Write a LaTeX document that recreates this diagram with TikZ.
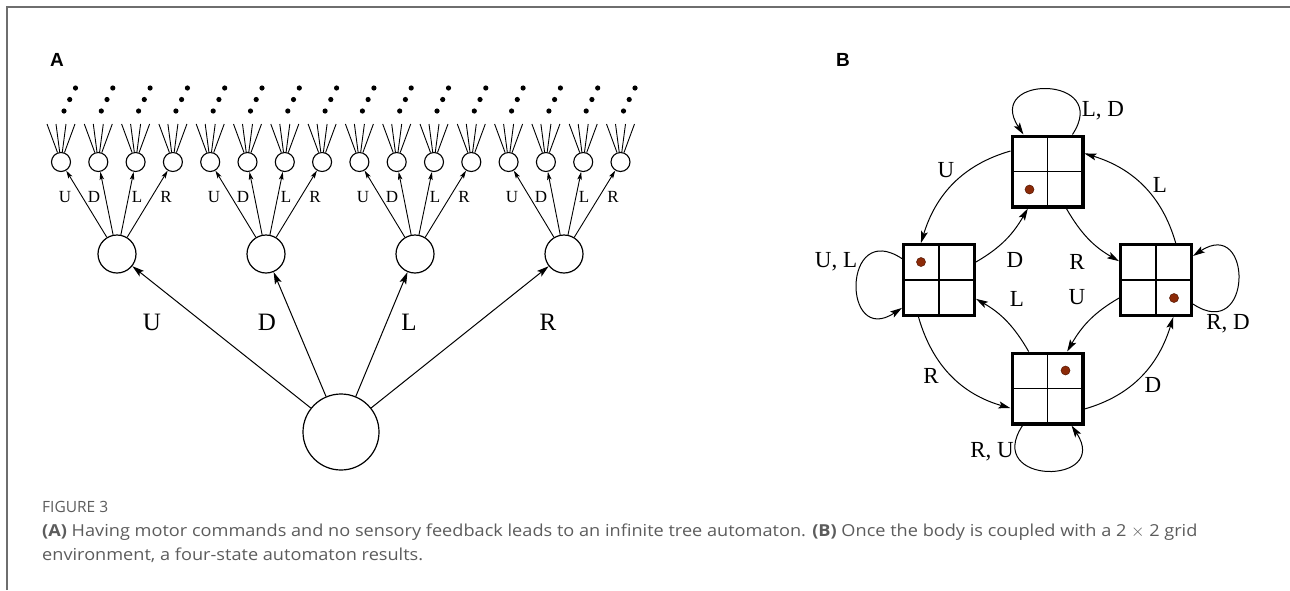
\documentclass[tikz,border=0pt]{standalone}
\usepackage{fontspec}
\setmainfont{Liberation Serif}
\newfontfamily\panelfont{Liberation Sans}
\newfontfamily\capfont[FakeStretch=1.1]{Open Sans}
\newfontfamily\figfont{Open Sans}
\usetikzlibrary{arrows.meta}
\definecolor{pebble}{RGB}{140,42,8}
\definecolor{capgray}{RGB}{92,92,92}
\definecolor{framegray}{RGB}{110,110,110}
\begin{document}
\begin{tikzpicture}[x=1pt,y=1pt,
  frame/.style={draw=framegray, line width=1.5pt},
  panel/.style={font=\panelfont\bfseries\fontsize{19}{22}\selectfont, inner sep=0pt},
  rootnode/.style={circle, draw, line width=1.2pt, minimum size=76pt, inner sep=0pt},
  midnode/.style={circle, draw, line width=1.2pt, minimum size=38pt, inner sep=0pt},
  leafnode/.style={circle, draw, line width=1.1pt, minimum size=19pt, inner sep=0pt},
  bigarrow/.style={line width=1pt, -{Stealth[length=12pt,width=7pt,inset=2.5pt]}},
  smallarrow/.style={line width=0.9pt, -{Stealth[length=8pt,width=4.5pt,inset=1.8pt]}},
  branch/.style={line width=0.9pt},
  biglabel/.style={font=\fontsize{25}{30}\selectfont, inner sep=0pt},
  smalllabel/.style={font=\fontsize{17}{20}\selectfont, inner sep=0pt},
  gridbox/.style={draw, line width=3.4pt, minimum size=70.6pt, inner sep=0pt,
    path picture={\draw[line width=1.1pt]
      (path picture bounding box.north) -- (path picture bounding box.south)
      (path picture bounding box.west) -- (path picture bounding box.east);}},
  agent/.style={fill=pebble, draw=pebble!60!black, line width=0.5pt},
  trans/.style={line width=1pt, -{Stealth[length=12pt,width=7pt,inset=2.5pt]}},
  translabel/.style={font=\fontsize{23}{27}\selectfont, inner sep=0pt},
  figtext/.style={font=\figfont\fontsize{15.5}{18}\selectfont, text=capgray, inner sep=0pt, anchor=base west},
  captext/.style={font=\capfont\fontsize{16.5}{20}\selectfont, text=capgray, inner sep=0pt, anchor=base west}
]
\useasboundingbox (0,0) rectangle (1290,-590);

% outer frame (top and left rules)
\draw[frame] (7,-590) -- (7,-7) -- (1290,-7);

% ---------------- panel A: tree automaton ----------------
\node[panel] (pa) at (57,-60) {A};
\node[rootnode] (root) at (341,-432) {};
\foreach \g/\lab/\lx in {0/U/152,1/D/267,2/L/409,3/R/548} {
  \pgfmathsetmacro\mx{117+149*\g}
  \node[midnode] (m\g) at (\mx,-254) {};
  \draw[bigarrow] (root) -- (m\g);
  \node[biglabel] (bl\g) at (\lx,-322) {\lab};
  \foreach \k/\sl/\off in {0/U/-52,1/D/-23,2/L/20,3/R/49} {
    \pgfmathsetmacro\sx{61+37.3*(4*\g+\k)}
    \node[leafnode] (s\g\k) at (\sx,-162) {};
    \draw[smallarrow] (m\g) -- (s\g\k);
    \node[smalllabel] (sl\g\k) at (\mx+\off,-197) {\sl};
    % branches towards the next level
    \foreach \d [count=\n] in {-14,-5,5,14} {
      \coordinate (t\g\k\n) at (\sx+\d,-124);
      \draw[branch] (s\g\k) -- (t\g\k\n);
    }
    % continuation dots
    \fill (\sx+3,-111) circle (2.6);
    \fill (\sx+8.7,-99.5) circle (2.6);
    \fill (\sx+14.5,-88) circle (2.6);
  }
}

% ---------------- panel B: four-state automaton ----------------
\node[panel] (pb) at (843,-60) {B};
\node[gridbox] (T) at (1047.5,-171.5) {};
\node[gridbox] (W) at (939,-280) {};
\node[gridbox] (E) at (1156,-280) {};
\node[gridbox] (S) at (1047.5,-388.5) {};
\fill[agent] ([shift={(-18,-18)}]T.center) circle (4.5);
\fill[agent] ([shift={(-18,18)}]W.center) circle (4.5);
\fill[agent] ([shift={(18,-18)}]E.center) circle (4.5);
\fill[agent] ([shift={(18,18)}]S.center) circle (4.5);

% outer transitions
\draw[trans] (T.151.6) to[out=196,in=73] (W.116.3);
\draw[trans] (E.62.9) to[out=106,in=-17] (T.26.3);
\draw[trans] (W.241.6) to[out=286,in=164] (S.208.4);
\draw[trans] (S.331.6) to[out=16,in=253] (E.295.1);
\node[translabel] (lu) at (946,-170) {U};
\node[translabel] (ll) at (1160,-185) {L};
\node[translabel] (lr) at (931,-376) {R};
\node[translabel] (ld) at (1153,-385) {D};

% inner transitions
\draw[trans] (W.26.3) to[out=30,in=240] (T.242.5);
\draw[trans] (T.297.5) to[out=300,in=150] (E.153.7);
\draw[trans] (E.206.3) to[out=210,in=60] (S.62.5);
\draw[trans] (S.117.5) to[out=120,in=330] (W.333.7);
\node[translabel] (id) at (1015,-260) {D};
\node[translabel] (ir) at (1077,-262) {R};
\node[translabel] (iu) at (1077,-297) {U};
\node[translabel] (il) at (1017,-299) {L};

% self-loops
\draw[trans] (T.56.5) .. controls +(56.5:72) and +(123.5:72) .. (T.123.5);
\draw[trans] (W.150) .. controls +(146.5:72) and +(213.5:72) .. (W.217);
\draw[trans] (E.-33.5) .. controls +(-33.5:72) and +(33.5:72) .. (E.33.5);
\draw[trans] (S.236.5) .. controls +(236.5:72) and +(303.5:72) .. (S.303.5);
\node[translabel] (ltd) at (1103,-111) {L, D};
\node[translabel] (lwl) at (836,-262) {U, L};
\node[translabel] (led) at (1228,-324) {R, D};
\node[translabel] (lsu) at (992,-452) {R, U};

% ---------------- caption ----------------
\node[figtext] (fig) at (42,-512) {FIGURE 3};
\node[captext] (cap1) at (42,-536) {\textbf{(A)} Having motor commands and no sensory feedback leads to an infinite tree automaton. \textbf{(B)} Once the body is coupled with a 2 $\times$ 2 grid};
\node[captext] (cap2) at (42,-560) {environment, a four-state automaton results.};
\end{tikzpicture}
\end{document}
